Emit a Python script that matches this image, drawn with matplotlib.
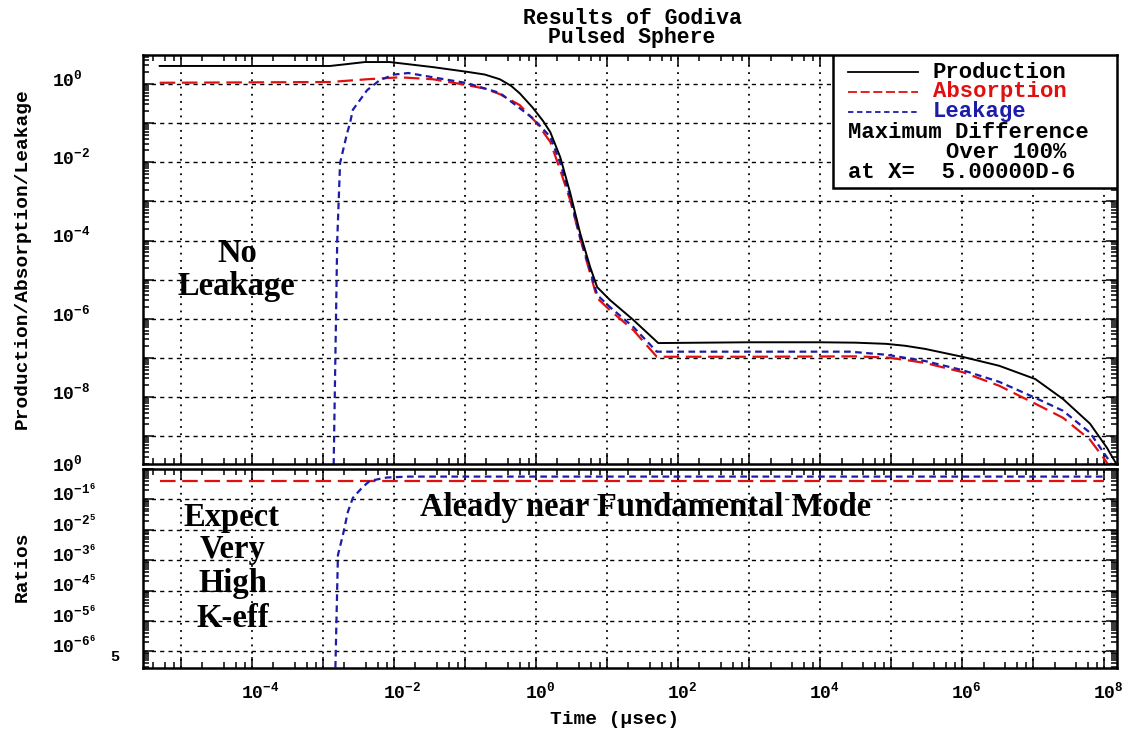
import numpy as np
import matplotlib
matplotlib.use('Agg')
from matplotlib import pyplot as plt
from matplotlib import ticker
from matplotlib.patches import Rectangle

plt.rcParams['font.family'] = ['Liberation Mono', 'DejaVu Sans Mono']
plt.rcParams['font.weight'] = 'bold'
plt.rcParams['mathtext.fontset'] = 'custom'
plt.rcParams['mathtext.rm'] = 'Liberation Mono:bold'
plt.rcParams['mathtext.it'] = 'Liberation Mono:bold'
plt.rcParams['mathtext.bf'] = 'Liberation Mono:bold'
plt.rcParams['mathtext.default'] = 'rm'

# all values are log10
# time in usec
prod_t = [-5.30, -2.90, -2.70, -2.41, -2.06, -1.45, -0.97, -0.72, -0.51, -0.35,
          -0.23, -0.05, 0.10, 0.20, 0.34, 0.48, 0.62, 0.76, 0.86, 1.04,
          1.37, 1.72, 3.0, 4.0, 4.50, 4.93, 5.20, 5.48, 6.00, 6.52,
          7.03, 7.42, 7.80, 8.04, 8.20]
prod_v = [0.46, 0.46, 0.50, 0.56, 0.56, 0.43, 0.31, 0.24, 0.12, -0.05,
          -0.24, -0.60, -0.95, -1.23, -1.87, -2.78, -3.81, -4.67, -5.19, -5.52,
          -6.03, -6.62, -6.60, -6.60, -6.61, -6.64, -6.69, -6.77, -6.97, -7.20,
          -7.54, -8.05, -8.68, -9.30, -9.80]

abs_t = [-5.30, -2.90, -2.38, -1.92, -1.45, -0.97, -0.72, -0.51, -0.23, 0.01,
         0.20, 0.34, 0.48, 0.62, 0.76, 0.86, 1.04, 1.37, 1.70, 3.0,
         4.50, 4.94, 5.20, 5.48, 6.00, 6.52, 7.03, 7.42, 7.80, 8.01, 8.08]
abs_v = [0.03, 0.05, 0.12, 0.17, 0.12, -0.03, -0.12, -0.26, -0.54, -1.00,
         -1.48, -2.20, -2.97, -3.94, -4.83, -5.47, -5.78, -6.29, -6.97, -6.97,
         -6.96, -6.99, -7.05, -7.13, -7.36, -7.71, -8.17, -8.53, -9.09, -9.60, -9.80]

leak_t = [-2.87, -2.80, -2.76, -2.66, -2.62, -2.58, -2.38, -2.20, -2.00, -1.80,
          -1.45, -0.97, -0.51, -0.05, 0.20, 0.34, 0.48, 0.62, 0.76, 0.86,
          1.04, 1.37, 1.70, 3.0, 4.42, 4.94, 5.48, 6.00, 6.52, 7.03,
          7.42, 7.80, 8.06, 8.12]
leak_v = [-12.0, -3.99, -2.02, -1.25, -1.00, -0.66, -0.16, 0.10, 0.24, 0.28,
          0.17, 0.02, -0.23, -0.87, -1.35, -2.02, -2.89, -3.92, -4.75, -5.39,
          -5.70, -6.21, -6.84, -6.84, -6.84, -6.92, -7.08, -7.31, -7.61, -8.02,
          -8.35, -8.91, -9.60, -9.80]

# ratios to production
rprod_t = [-5.30, 8.00]
rprod_v = [0.0, 0.0]
rabs_t = [-5.30, 8.00]
rabs_v = [-0.38, -0.38]
rleak_t = [-2.84, -2.79, -2.72, -2.65, -2.58, -2.44, -2.34, -2.10, -1.80, 8.00]
rleak_v = [-8.0, -2.83, -2.17, -1.41, -0.95, -0.59, -0.39, -0.28, -0.25, -0.25]

top_ticks = [0, -2, -4, -6, -8]
x_ticks = [-4, -2, 0, 2, 4, 6, 8]
ratio_ticks = [0, -1, -2, -3, -4, -5, -6]
ratio_labels = [r'$10^{0}$', r'$10^{-1^{6}}$', r'$10^{-2^{5}}$', r'$10^{-3^{6}}$',
                r'$10^{-4^{5}}$', r'$10^{-5^{6}}$', r'$10^{-6^{6}}$']

W, H = 1133, 735
def fx(px):
    return px / W
def fy(py):
    return 1 - py / H

fig = plt.figure(figsize=(W / 100, H / 100), dpi=100)
ax = fig.add_axes([fx(143), fy(464), 974 / W, 409 / H])
axr = fig.add_axes([fx(143), fy(668), 974 / W, 199 / H])

BLACK = 'black'
RED = '#e01010'
BLUE = '#1c1ca8'


def style(a, ylo, yhi):
    a.set_xscale('log')
    a.set_yscale('log')
    a.set_xlim(10 ** -5.535, 10 ** 8.18)
    a.set_ylim(10 ** ylo, 10 ** yhi)
    a.xaxis.set_major_locator(ticker.LogLocator(base=10, numticks=40))
    a.xaxis.set_minor_locator(ticker.LogLocator(base=10, subs=(2, 4, 6, 8), numticks=40))
    a.yaxis.set_major_locator(ticker.LogLocator(base=10, numticks=40))
    a.yaxis.set_minor_locator(ticker.LogLocator(base=10, subs=np.arange(2, 10), numticks=40))
    for axis in (a.xaxis, a.yaxis):
        axis.set_major_formatter(ticker.NullFormatter())
        axis.set_minor_formatter(ticker.NullFormatter())
    a.tick_params(which='both', direction='in', top=True, right=True, width=1.1)
    a.tick_params(which='major', length=8)
    a.tick_params(which='minor', length=4.5)
    a.grid(axis='x', which='major', ls=(0, (1, 3)), color='k', lw=1.3)
    a.grid(axis='y', which='major', ls=(0, (3, 3)), color='k', lw=1.0)
    for s in a.spines.values():
        s.set_linewidth(1.8)


style(ax, -9.71, 0.74)
style(axr, -6.55, 0.0)


def pw(v):
    return 10.0 ** np.array(v)


# top panel curves
ax.plot(pw(abs_t), pw(abs_v), color=RED, lw=1.6, ls=(0, (7, 3)))
ax.plot(pw(leak_t), pw(leak_v), color=BLUE, lw=1.6, ls=(0, (3, 2)))
ax.plot(pw(prod_t), pw(prod_v), color=BLACK, lw=1.4)

# ratio panel curves
axr.plot(pw(rabs_t), pw(rabs_v), color=RED, lw=1.6, ls=(0, (7, 3)))
axr.plot(pw(rleak_t), pw(rleak_v), color=BLUE, lw=1.6, ls=(0, (3, 2)))
axr.plot(pw(rprod_t), pw(rprod_v), color=BLACK, lw=1.4)

# tick labels, left aligned like the original
for e in top_ticks:
    ax.annotate(r'$10^{%d}$' % e, xy=(fx(52), 10.0 ** e),
                xycoords=('figure fraction', 'data'), xytext=(0, 3),
                textcoords='offset points', ha='left', va='center',
                fontsize=13, annotation_clip=False)
for e, lab in zip(ratio_ticks, ratio_labels):
    axr.annotate(lab, xy=(fx(52), 10.0 ** e),
                 xycoords=('figure fraction', 'data'), xytext=(0, 3),
                 textcoords='offset points', ha='left', va='center',
                 fontsize=13, annotation_clip=False)
fig.text(fx(110), fy(657), '5', ha='left', va='center', fontsize=11)

for e in x_ticks:
    axr.annotate(r'$10^{%d}$' % e, xy=(10.0 ** e, 0),
                 xycoords=('data', 'axes fraction'), xytext=(-8, -10),
                 textcoords='offset points', ha='left', va='top',
                 fontsize=13, annotation_clip=False)

# axis labels and title
fig.text(fx(632), fy(18), 'Results of Godiva', ha='center', va='center', fontsize=15.5)
fig.text(fx(632), fy(37), 'Pulsed Sphere', ha='center', va='center', fontsize=15.5)
fig.text(fx(615), fy(720), 'Time (\u03bcsec)', ha='center', va='center', fontsize=14)
fig.text(fx(22), fy(259), 'Production/Absorption/Leakage', rotation=90,
         ha='center', va='center', fontsize=14)
fig.text(fx(22), fy(567), 'Ratios', rotation=90, ha='center', va='center', fontsize=14)

# legend box
box_x0 = (833 - 143) / 974
box_y0 = (464 - 188) / 409
ax.add_patch(Rectangle((box_x0, box_y0), 1 - box_x0, 1 - box_y0, transform=ax.transAxes,
                       facecolor='white', edgecolor='black', lw=1.8, zorder=5))
def ay(py):
    return (464 - py) / 409
def axf(px):
    return (px - 143) / 974

legend_rows = [('Production', BLACK, '-', 72),
               ('Absorption', RED, (0, (5, 2)), 92),
               ('Leakage', BLUE, (0, (3, 2)), 112)]
for name, col, ls, py in legend_rows:
    ax.plot([axf(848), axf(918)], [ay(py), ay(py)], transform=ax.transAxes,
            color=col, ls=ls, lw=1.3, zorder=6, clip_on=False)
    ax.text(axf(933), ay(py), name, transform=ax.transAxes, color=col,
            ha='left', va='center', fontsize=16, zorder=6)
ax.text(axf(848), ay(132), 'Maximum Difference', transform=ax.transAxes,
        ha='left', va='center', fontsize=16, zorder=6)
ax.text(axf(946), ay(153), 'Over 100%', transform=ax.transAxes,
        ha='left', va='center', fontsize=16, zorder=6)
ax.text(axf(848), ay(173), 'at X=  5.00000D-6', transform=ax.transAxes,
        ha='left', va='center', fontsize=16, zorder=6)

# notes
serif = dict(family='Liberation Serif', weight='bold', fontsize=23.5, ha='center', va='baseline')
fig.text(fx(237), fy(262), 'No', **serif)
fig.text(fx(236), fy(295), 'Leakage', **serif)
fig.text(fx(232), fy(526), 'Expect', **serif)
fig.text(fx(233), fy(558), 'Very', **serif)
fig.text(fx(233), fy(592), 'High', **serif)
fig.text(fx(233), fy(627), 'K-eff', **serif)
fig.text(fx(646), fy(516), 'Aleady near Fundamental Mode', **serif)

fig.savefig('out.png', dpi=100)
